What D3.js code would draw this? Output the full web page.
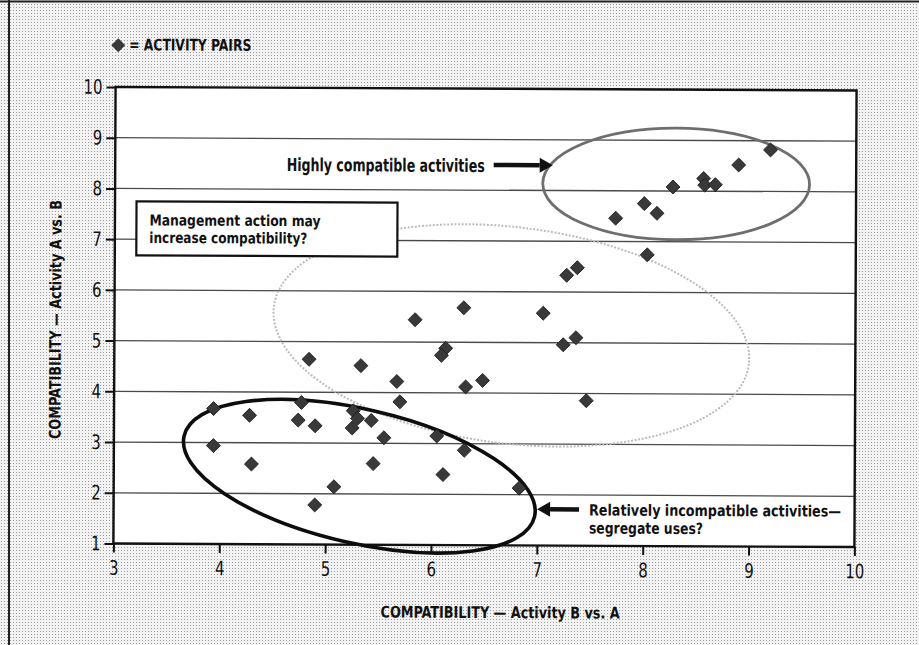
<!DOCTYPE html>
<html>
<head>
<meta charset="utf-8">
<script src="https://cdn.jsdelivr.net/npm/d3@7"></script>
<style>
  html, body { margin: 0; padding: 0; background: #fff; }
  svg { display: block; }
</style>
</head>
<body>
<svg id="chart" width="919" height="645"></svg>
<script>
// activity pairs: compatibility of B vs A (x) and A vs B (y)
const pairB = [
  9.19, 8.89, 8.56, 8.57, 8.67, 8.27, 8.00, 8.12, 7.73, 8.03,
  7.27, 7.37, 7.05, 6.30, 5.84, 7.24, 7.36, 6.13, 6.09, 4.84, 5.33, 5.67, 5.70, 6.32, 6.48, 7.46,
  3.94, 4.77, 4.28, 4.74, 4.90, 5.26, 5.30, 5.25, 5.43, 5.55, 6.05, 6.31, 3.94, 4.30, 5.45, 6.11, 5.08, 4.90, 6.83
];
const pairA = [
  8.82, 8.52, 8.25, 8.12, 8.13, 8.08, 7.75, 7.56, 7.46, 6.74,
  6.33, 6.48, 5.58, 5.68, 5.44, 4.96, 5.10, 4.88, 4.74, 4.65, 4.53, 4.22, 3.82, 4.12, 4.25, 3.86,
  3.67, 3.80, 3.54, 3.45, 3.34, 3.64, 3.49, 3.30, 3.45, 3.11, 3.15, 2.87, 2.94, 2.58, 2.60, 2.39, 2.14, 1.78, 2.13
];
const xTicks = [3, 4, 5, 6, 7, 8, 9, 10];
const yTicks = [1, 2, 3, 4, 5, 6, 7, 8, 9, 10];

// grouping ellipses in data units: centre, two half-axis vectors
const groupNames = ["high", "maybe", "low"];
const groupCentre = [[8.30, 8.14], [6.75, 5.14], [5.32, 2.35]];
const groupAxisU = [[1.26, 0], [2.245, -0.542], [1.657, -0.779]];
const groupAxisV = [[0, -1.10], [-0.117, -2.119], [-0.139, -1.289]];

const FONT = "'Liberation Sans Narrow', 'DejaVu Sans Condensed', 'Roboto Condensed', sans-serif";

const svg = d3.select("#chart");
const W = 919, H = 645;
const plot = { left: 114.5, right: 855.5, top: 88.7, bottom: 545.3 };

// halftone paper
const defs = svg.append("defs");
const pat = defs.append("pattern").attr("id", "dots")
  .attr("width", 3).attr("height", 3).attr("patternUnits", "userSpaceOnUse");
pat.append("rect").attr("width", 3).attr("height", 3).attr("fill", "#f3f3f3");
pat.append("rect").attr("x", 1).attr("y", 1).attr("width", 1).attr("height", 1).attr("fill", "#9a9a9a");

svg.append("rect").attr("width", W).attr("height", H).attr("fill", "url(#dots)");
svg.append("line").attr("x1", 0).attr("x2", W).attr("y1", 1.5).attr("y2", 1.5)
  .attr("stroke", "#222").attr("stroke-width", 2);
svg.append("line").attr("x1", 9).attr("x2", 9).attr("y1", 0).attr("y2", H)
  .attr("stroke", "#222").attr("stroke-width", 2);

const root = svg.append("g").attr("transform", "rotate(0.27 485 316)");

const x = d3.scaleLinear().domain([3, 10]).range([plot.left, plot.right]);
const y = d3.scaleLinear().domain([1, 10]).range([plot.bottom, plot.top]);

root.append("rect")
  .attr("x", plot.left).attr("y", plot.top)
  .attr("width", plot.right - plot.left).attr("height", plot.bottom - plot.top)
  .attr("fill", "#fff");

// gridlines
root.append("g")
  .selectAll("line")
  .data(yTicks.filter((d) => d > 1 && d < 10))
  .join("line")
  .attr("x1", plot.left).attr("x2", plot.right)
  .attr("y1", (d) => y(d)).attr("y2", (d) => y(d))
  .attr("stroke", "#4a4a4a").attr("stroke-width", 1.3);

// frame
root.append("rect")
  .attr("x", plot.left).attr("y", plot.top)
  .attr("width", plot.right - plot.left).attr("height", plot.bottom - plot.top)
  .attr("fill", "none").attr("stroke", "#111").attr("stroke-width", 2.4);

// axes
const yAxis = root.append("g")
  .attr("transform", `translate(${plot.left},0)`)
  .call(d3.axisLeft(y).tickValues(yTicks).tickSize(9).tickPadding(4).tickFormat(d3.format("d")));
const xAxis = root.append("g")
  .attr("transform", `translate(0,${plot.bottom})`)
  .call(d3.axisBottom(x).tickValues(xTicks).tickSize(9).tickPadding(8).tickFormat(d3.format("d")));
[yAxis, xAxis].forEach((ax) => {
  ax.select(".domain").remove();
  ax.selectAll(".tick line").attr("stroke", "#111").attr("stroke-width", 2);
  ax.selectAll(".tick text")
    .attr("fill", "#111")
    .attr("textLength", (d) => String(d).length * 9.5)
    .attr("lengthAdjust", "spacingAndGlyphs")
    .style("font-family", FONT)
    .style("font-size", "20px");
});

// group ellipses (unit circle stretched through the scales)
const ellipseStyle = {
  high: { stroke: "#6e6e6e", width: 2.8, dash: null },
  maybe: { stroke: "#bcbcbc", width: 2, dash: "2 1.6" },
  low: { stroke: "#0d0d0d", width: 3.6, dash: null }
};
groupNames.forEach((name, i) => {
  const [cx, cy] = groupCentre[i];
  const u = groupAxisU[i];
  const v = groupAxisV[i];
  const px = x(cx), py = y(cy);
  const m = [x(cx + u[0]) - px, y(cy + u[1]) - py, x(cx + v[0]) - px, y(cy + v[1]) - py, px, py];
  const st = ellipseStyle[name];
  root.append("circle")
    .attr("r", 1)
    .attr("transform", `matrix(${m.join(",")})`)
    .attr("fill", "none")
    .attr("stroke", st.stroke)
    .attr("stroke-width", st.width)
    .attr("stroke-dasharray", st.dash)
    .attr("vector-effect", "non-scaling-stroke");
});

// activity pairs
const diamond = d3.symbol().type(d3.symbolSquare).size(98);
root.append("g")
  .selectAll("path")
  .data(pairB.map((b, i) => [b, pairA[i]]))
  .join("path")
  .attr("d", diamond)
  .attr("transform", (d) => `translate(${x(d[0])},${y(d[1])}) rotate(45)`)
  .attr("fill", "#393939")
  .attr("stroke", "#1a1a1a")
  .attr("stroke-width", 0.8);

// legend
root.append("path")
  .attr("d", diamond)
  .attr("transform", "translate(117,47) rotate(45)")
  .attr("fill", "#393939");
root.append("text")
  .attr("x", 128).attr("y", 52)
  .attr("textLength", 122).attr("lengthAdjust", "spacingAndGlyphs")
  .style("font-family", FONT).style("font-size", "16px").style("font-weight", "bold")
  .attr("fill", "#111")
  .text("= ACTIVITY PAIRS");

// annotations
function label(lines, x0, y0, lh, widths, size) {
  const t = root.append("text")
    .style("font-family", FONT).style("font-size", `${size}px`).style("font-weight", "bold")
    .attr("fill", "#111");
  lines.forEach((s, i) => {
    t.append("tspan").attr("x", x0).attr("y", y0 + i * lh)
      .attr("textLength", widths[i]).attr("lengthAdjust", "spacingAndGlyphs")
      .text(s);
  });
}
function arrow(x0, x1, yy) {
  const dir = Math.sign(x1 - x0);
  const head = 13;
  root.append("line")
    .attr("x1", x0).attr("x2", x1 - dir * head).attr("y1", yy).attr("y2", yy)
    .attr("stroke", "#111").attr("stroke-width", 4.5);
  root.append("path")
    .attr("d", `M${x1},${yy} L${x1 - dir * head},${yy - 7.5} L${x1 - dir * head},${yy + 7.5} Z`)
    .attr("fill", "#111");
}

label(["Highly compatible activities"], 286, 172, 0, [198], 18);
arrow(493, 552, 165);

root.append("rect")
  .attr("x", 136).attr("y", 203).attr("width", 261).attr("height", 54)
  .attr("fill", "#fff").attr("stroke", "#111").attr("stroke-width", 2.2);
label(["Management action may", "increase compatibility?"], 149, 227, 17.5, [171, 158], 15);

label(["Relatively incompatible activities\u2014", "segregate uses?"], 590, 515, 18, [252, 114], 15.5);
arrow(580, 538, 509);

// axis titles
root.append("text")
  .attr("x", 382).attr("y", 618)
  .attr("textLength", 239).attr("lengthAdjust", "spacingAndGlyphs")
  .style("font-family", FONT).style("font-size", "16px").style("font-weight", "bold")
  .attr("fill", "#111")
  .text("COMPATIBILITY \u2014 Activity B vs. A");
root.append("text")
  .attr("transform", "translate(61,441) rotate(-90)")
  .attr("textLength", 239).attr("lengthAdjust", "spacingAndGlyphs")
  .style("font-family", FONT).style("font-size", "16px").style("font-weight", "bold")
  .attr("fill", "#111")
  .text("COMPATIBILITY \u2014 Activity A vs. B");
</script>
</body>
</html>
